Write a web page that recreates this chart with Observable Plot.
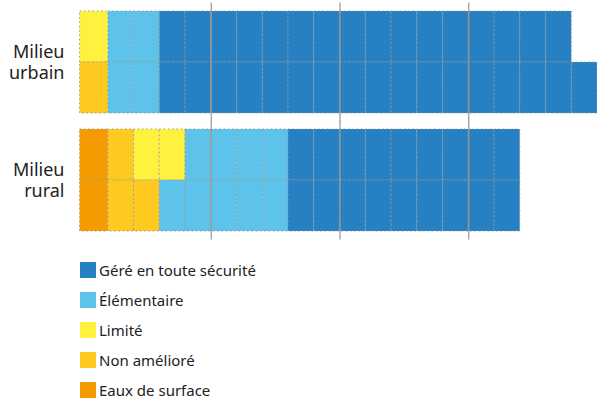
<!DOCTYPE html>
<html>
<head>
<meta charset="utf-8">
<script src="https://cdn.jsdelivr.net/npm/d3@7"></script>
<script src="https://cdn.jsdelivr.net/npm/@observablehq/plot@0.6"></script>
<style>
  html, body { margin: 0; padding: 0; background: #fff; }
  body { font-family: "Noto Sans", Roboto, sans-serif; width: 597px; }
  #legend { padding-top: 17px; padding-left: 80px; }
  .row { display: flex; align-items: center; height: 30px; }
  .row .sw { width: 16px; height: 16px; margin-right: 3px; margin-top: -14px; }
  .row span { font-size: 15px; color: #222; margin-top: -14px; }
</style>
</head>
<body>
<div id="chart"></div>
<div id="legend"></div>
<script>
// Categories in stacking order (left to right)
const categories = ["Eaux de surface", "Non amélioré", "Limité", "Élémentaire", "Géré en toute sécurité"];
const colors = ["#F59B00", "#FFCA1F", "#FFF23E", "#5EC3EB", "#2780C1"];
const legendOrder = ["Géré en toute sécurité", "Élémentaire", "Limité", "Non amélioré", "Eaux de surface"];
const groups = ["Milieu urbain", "Milieu rural"];
const groupLabels = ["Milieu\nurbain", "Milieu\nrural"];
const rowKeys = ["1", "2"];
// Number of units (cells) per category, per group and row
const urbainRow1 = [0, 0, 1, 2, 16];
const urbainRow2 = [0, 1, 0, 2, 17];
const ruralRow1 = [1, 1, 2, 4, 9];
const ruralRow2 = [1, 2, 0, 5, 9];
const gridTicks = [5, 10, 15];

const series = [
  {group: groups[0], row: rowKeys[0], counts: urbainRow1},
  {group: groups[0], row: rowKeys[1], counts: urbainRow2},
  {group: groups[1], row: rowKeys[0], counts: ruralRow1},
  {group: groups[1], row: rowKeys[1], counts: ruralRow2}
];
const cells = [];
for (const s of series) {
  let i = 0;
  s.counts.forEach((n, c) => {
    for (let k = 0; k < n; k++) {
      cells.push({group: s.group, row: s.row, cat: categories[c], i0: i, i1: i + 1});
      i++;
    }
  });
}
const labels = groups.map((g, j) => ({group: g, text: groupLabels[j]}));

const cellStyle = {
  x1: "i0", x2: "i1", y: "row", fy: "group", fill: "cat",
  stroke: "#9a9a9a", strokeDasharray: "1.5,2.8", strokeWidth: 1
};

const plot = Plot.plot({
  width: 597,
  height: 245,
  marginLeft: 82,
  marginRight: 0,
  marginTop: 10,
  marginBottom: 13,
  style: {fontFamily: "'Noto Sans', sans-serif", background: "#fff"},
  x: {domain: [0, 20], axis: null},
  y: {domain: rowKeys, axis: null, paddingInner: 0, paddingOuter: 0},
  fy: {domain: groups, axis: null, paddingInner: 0.127, paddingOuter: 0},
  color: {domain: categories, range: colors},
  marks: [
    Plot.barX(cells, {...cellStyle, filter: d => d.i0 !== 0}),
    Plot.barX(cells, {...cellStyle, filter: d => d.i0 === 0, insetLeft: -2.4}),
    Plot.ruleX(gridTicks, {stroke: "#9d9890", strokeWidth: 1.2, insetTop: -7.5, insetBottom: -8.5}),
    Plot.text(labels, {fy: "group", text: "text", frameAnchor: "left", dx: -18, textAnchor: "end",
      fontSize: 18, lineHeight: 1.12, fill: "#222"})
  ]
});
document.getElementById("chart").appendChild(plot);

const colorOf = Object.fromEntries(categories.map((c, i) => [c, colors[i]]));
const legend = d3.select("#legend");
for (const c of legendOrder) {
  const r = legend.append("div").attr("class", "row");
  r.append("div").attr("class", "sw").style("background", colorOf[c]);
  r.append("span").text(c);
}
</script>
</body>
</html>
